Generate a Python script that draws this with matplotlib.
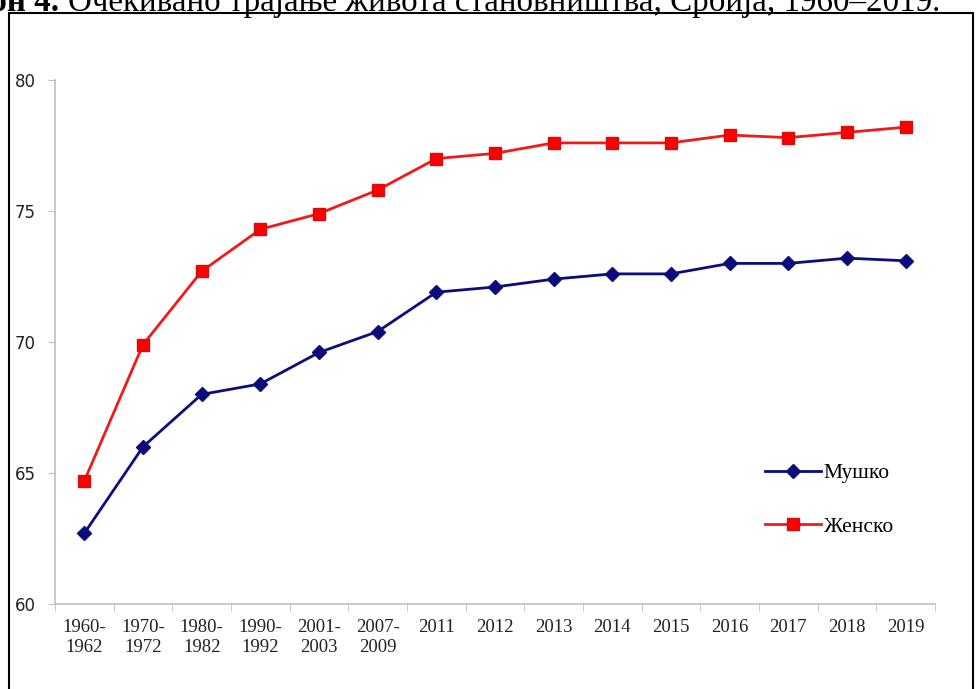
import matplotlib
matplotlib.use("Agg")
import matplotlib.pyplot as plt
from matplotlib.patches import Rectangle
from matplotlib.ticker import FixedLocator
import numpy as np

periods = ["1960-\n1962", "1970-\n1972", "1980-\n1982", "1990-\n1992", "2001-\n2003",
           "2007-\n2009", "2011", "2012", "2013", "2014", "2015", "2016", "2017",
           "2018", "2019"]
male = [62.7, 66.0, 68.0, 68.4, 69.6, 70.4, 71.9, 72.1, 72.4, 72.6, 72.6, 73.0, 73.0, 73.2, 73.1]
female = [64.7, 69.9, 72.7, 74.3, 74.9, 75.8, 77.0, 77.2, 77.6, 77.6, 77.6, 77.9, 77.8, 78.0, 78.2]

serif = ["Liberation Serif", "DejaVu Serif"]
grey = "#bfbfbf"

fig = plt.figure(figsize=(9.76, 6.89), dpi=100)
W, H = 976, 689

# frame around the chart area
fig.add_artist(Rectangle((9 / W, -0.05), (973 - 9) / W, 1.05 - 13 / H,
                         transform=fig.transFigure, fill=False,
                         edgecolor="black", linewidth=1.5))

ax = fig.add_axes([55 / W, 85 / H, 880 / W, 524 / H])
x = np.arange(len(periods))
ax.plot(x, male, color="#0c0c7a", lw=2.0, marker="D", ms=7.5,
        mec="#0c0c7a", label="Мушко")
ax.plot(x, female, color="#f01a1a", lw=2.0, marker="s", ms=9,
        mfc="#ff0000", mec="#d01010", label="Женско")

ax.set_xlim(-0.5, len(periods) - 0.5)
ax.set_ylim(60, 80)
ax.set_yticks([60, 65, 70, 75, 80])
ax.set_xticks(x)
ax.set_xticklabels(periods, fontfamily=serif, fontsize=13.5, linespacing=1.25,
                   color="#222222")
ax.xaxis.set_minor_locator(FixedLocator(np.arange(-0.5, len(periods), 1.0)))
ax.tick_params(axis="x", which="major", length=0, pad=10.5)
ax.tick_params(axis="x", which="minor", length=5, color=grey, direction="out")
ax.tick_params(axis="y", length=5, color=grey, pad=9, labelsize=12,
               labelcolor="#222222")
for side in ("top", "right"):
    ax.spines[side].set_visible(False)
for side in ("left", "bottom"):
    ax.spines[side].set_color(grey)
    ax.spines[side].set_linewidth(1.2)

ax.legend(loc="upper left", bbox_to_anchor=(0.807, 0.269), frameon=False,
          borderpad=0, borderaxespad=0, handlelength=2.6, handletextpad=0.12,
          labelspacing=1.56, prop={"family": serif, "size": 15.5})

# title, only partly visible above the frame
fig.canvas.draw()
r = fig.canvas.get_renderer()
t = fig.text(940 / W, 1 - 11 / H,
             "Очекивано трајање живота становништва, Србија, 1960–2019.",
             ha="right", va="baseline", fontfamily=serif, fontsize=23.8)
bb = t.get_window_extent(renderer=r)
fig.text((bb.x0 - 9) / W, 1 - 11 / H, "Графикон 4.", ha="right", va="baseline",
         fontfamily=serif, fontsize=23.8, fontweight="bold")

fig.savefig("out.png", dpi=100)
